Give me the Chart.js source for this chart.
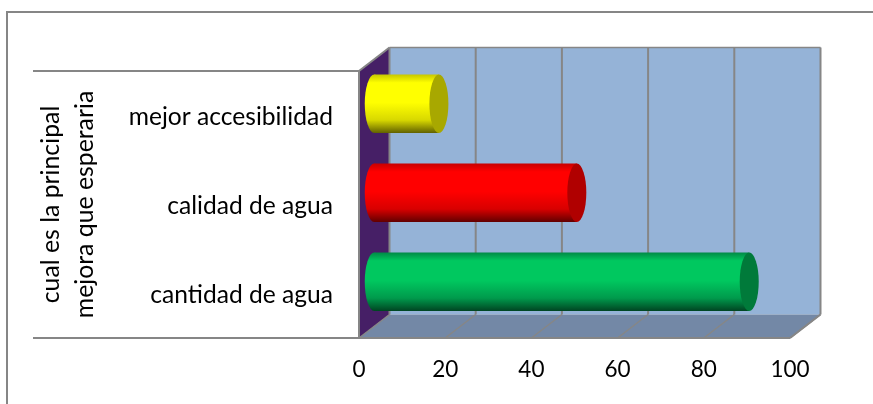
<!DOCTYPE html>
<html><head><meta charset="utf-8">
<style>html,body{margin:0;padding:0;background:#fff}#w{width:873px;height:404px;position:relative}</style>
<script src="https://cdn.jsdelivr.net/npm/chart.js@4/dist/chart.umd.min.js"></script>
</head><body><div id="w"><canvas id="c" width="873" height="404"></canvas></div>
<script>
const categories = ["mejor accesibilidad", "calidad de agua", "cantidad de agua"];
const values = [15, 47, 87];
const axisTitle = ["cual es la principal", "mejora que esperaria"];
const tops = ["#c8c800", "#c80000", "#008a46"];
const mids = ["#ffff00", "#ff0000", "#00c85f"];
const lows = ["#d8d800", "#d80000", "#009a4c"];
const bottoms = ["#626200", "#620000", "#004522"];
const caps = ["#a8a800", "#b00000", "#007a3a"];
const DX = 30.5, DY = -23.5, LINE = "#868686", FONT = "Lato, 'Open Sans', sans-serif";

function barGradient(ctx, top, bottom, i) {
  const g = ctx.createLinearGradient(0, top, 0, bottom);
  g.addColorStop(0, tops[i]); g.addColorStop(0.14, mids[i]);
  g.addColorStop(0.48, mids[i]); g.addColorStop(0.78, lows[i]);
  g.addColorStop(1, bottoms[i]);
  return g;
}
const scene = {
  id: "scene",
  beforeDatasetsDraw(chart) {
    const { ctx, scales: { x, y } } = chart;
    const l = x.getPixelForValue(0), r = x.getPixelForValue(100), t = y.top, b = y.bottom;
    const poly = (pts, fill) => { ctx.beginPath(); pts.forEach((p, i) => i ? ctx.lineTo(p[0], p[1]) : ctx.moveTo(p[0], p[1])); ctx.closePath(); ctx.fillStyle = fill; ctx.fill(); };
    const seg = (a, c, d, e, w = 2) => { ctx.beginPath(); ctx.moveTo(a, c); ctx.lineTo(d, e); ctx.lineWidth = w; ctx.strokeStyle = LINE; ctx.stroke(); };
    ctx.save();
    // chart frame
    seg(7, 12, 873, 12); seg(7, 11, 7, 404);
    poly([[l + DX, t + DY], [r + DX, t + DY], [r + DX, b + DY], [l + DX, b + DY]], "#95b3d7");
    poly([[l, t], [l + DX, t + DY], [l + DX, b + DY], [l, b]], "#461f66");
    poly([[l, b], [l + DX, b + DY], [r + DX, b + DY], [r, b]], "#7388a6");
    seg(l + DX, t + DY, r + DX, t + DY, 1.5);
    x.ticks.forEach(tk => {
      const px = x.getPixelForValue(tk.value);
      seg(px + DX, t + DY, px + DX, b + DY);
      seg(px, b, px + DX, b + DY, 1.5);
    });
    seg(l, t, l + DX, t + DY); seg(r, b, r + DX, b + DY);
    seg(l, t, l, b);
    seg(33, t, l, t); seg(33, b, r, b);
    ctx.restore();
    ctx.save();
    ctx.translate(DX / 2, DY / 2);
    chart.getDatasetMeta(0).data.forEach((bar, i) => {
      const h = bar.height, rx = 9.5;
      ctx.beginPath();
      ctx.ellipse(bar.base, bar.y, rx, h / 2, 0, 0, Math.PI * 2);
      ctx.fillStyle = barGradient(ctx, bar.y - h / 2, bar.y + h / 2, i);
      ctx.fill();
    });
  },
  afterDatasetsDraw(chart) {
    const { ctx } = chart;
    chart.getDatasetMeta(0).data.forEach((bar, i) => {
      const h = bar.height, rx = 9.5;
      ctx.beginPath();
      ctx.ellipse(bar.x, bar.y, rx, h / 2, 0, 0, Math.PI * 2);
      ctx.fillStyle = caps[i];
      ctx.fill();
    });
    ctx.restore();
  }
};
new Chart(document.getElementById("c"), {
  type: "bar",
  data: { labels: categories, datasets: [{
    data: values,
    barPercentage: 0.655, categoryPercentage: 1,
    borderWidth: 0,
    clip: false,
    backgroundColor(c) {
      const ch = c.chart, y = ch.scales.y;
      if (!y || c.dataIndex === undefined) return mids[0];
      const cy = y.getPixelForValue(c.dataIndex), h = y.height / categories.length * 0.655;
      if (!isFinite(cy) || !isFinite(h)) return mids[c.dataIndex];
      return barGradient(ch.ctx, cy - h / 2, cy + h / 2, c.dataIndex);
    }
  }]},
  plugins: [scene],
  options: {
    indexAxis: "y", responsive: false, animation: false,
    layout: { padding: { top: 71, right: 83, left: 0, bottom: 0 } },
    plugins: { legend: { display: false }, tooltip: { enabled: false } },
    scales: {
      x: {
        min: 0, max: 100, afterFit(s) { s.height = 66; },
        grid: { display: false }, border: { display: false },
        ticks: { stepSize: 20, maxRotation: 0, padding: 10, color: "#000", font: { family: FONT, size: 22.5 } }
      },
      y: {
        afterFit(s) { s.width = 359; },
        grid: { display: false }, border: { display: false },
        ticks: { padding: 18, labelOffset: 2, color: "#000", font: { family: FONT, size: 24.6 } },
        title: { display: true, text: axisTitle, color: "#000", padding: { top: 34, bottom: 0 }, font: { family: FONT, size: 24.8, lineHeight: 1.38 } }
      }
    }
  }
});
</script></body></html>
